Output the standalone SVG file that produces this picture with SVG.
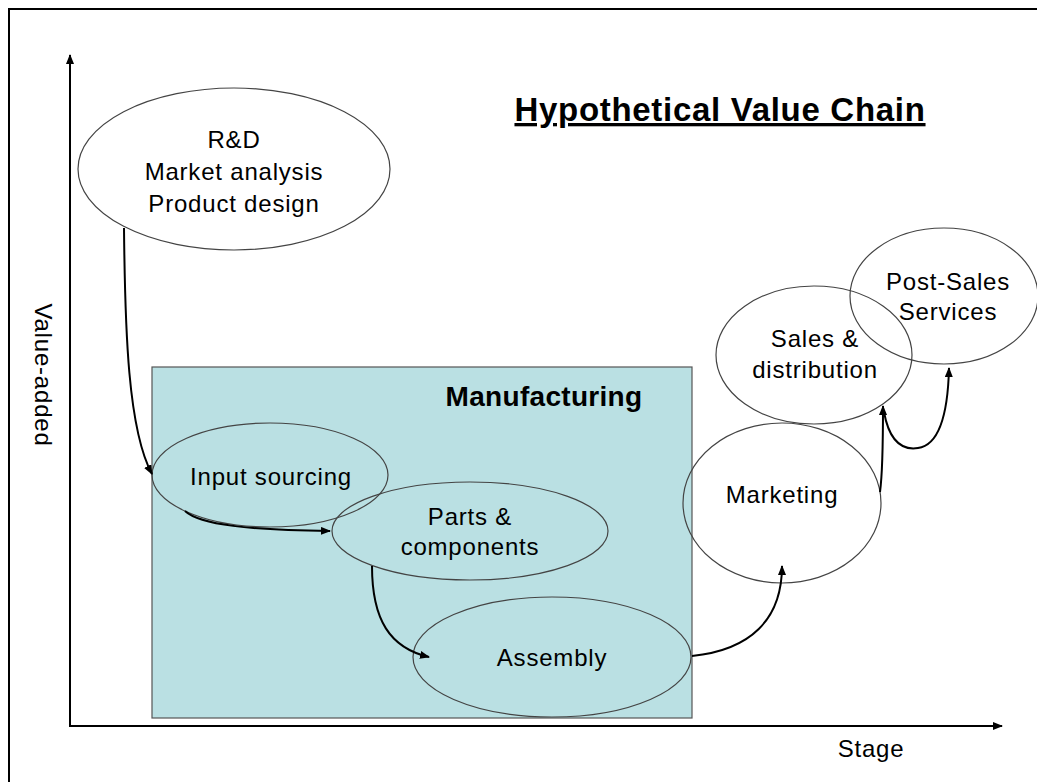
<svg xmlns="http://www.w3.org/2000/svg" width="1037" height="782" viewBox="0 0 1037 782">
  <defs>
    <marker id="arrow" viewBox="0 0 10 8" refX="9" refY="4" markerWidth="10" markerHeight="8" markerUnits="userSpaceOnUse" orient="auto">
      <path d="M0 0 L10 4 L0 8 Z" fill="#000"/>
    </marker>
    <style>
      .node { fill: none; stroke: #444; stroke-width: 1.2; }
      .lbl { font-family: "Liberation Sans", Arial, sans-serif; font-size: 24px; letter-spacing: 0.8px; fill: #000; text-anchor: middle; }
      .conn { fill: none; stroke: #000; stroke-width: 2; marker-end: url(#arrow); }
      .axis { fill: none; stroke: #000; stroke-width: 2; marker-end: url(#arrow); }
    </style>
  </defs>

  <rect width="1037" height="782" fill="#fff"/>
  <!-- outer frame -->
  <rect x="9" y="9" width="1040" height="790" fill="none" stroke="#000" stroke-width="2"/>

  <!-- axes -->
  <g id="axes">
    <path class="axis" d="M70 727 L70 55"/>
    <path class="axis" d="M69 726 L1002 726"/>
    <text class="lbl" transform="translate(35 375) rotate(90)" letter-spacing="1.6">Value-added</text>
    <text class="lbl" x="871" y="757">Stage</text>
  </g>

  <!-- title -->
  <text x="720" y="121" font-family="Liberation Sans, Arial, sans-serif" font-size="33" font-weight="bold" letter-spacing="0.7" text-anchor="middle" text-decoration="underline">Hypothetical Value Chain</text>

  <!-- manufacturing block -->
  <g id="manufacturing">
    <rect x="152" y="367" width="540" height="351" fill="#bae0e3" stroke="#555" stroke-width="1.2"/>
    <text x="544" y="406" font-family="Liberation Sans, Arial, sans-serif" font-size="28" font-weight="bold" letter-spacing="0.3" text-anchor="middle">Manufacturing</text>
  </g>

  <g id="rnd">
    <ellipse class="node" cx="234" cy="169" rx="156" ry="81"/>
    <text class="lbl" x="234" y="148">R&amp;D</text>
    <text class="lbl" x="234" y="180">Market analysis</text>
    <text class="lbl" x="234" y="212">Product design</text>
  </g>

  <g id="input-sourcing">
    <ellipse class="node" cx="270" cy="475" rx="118" ry="52"/>
    <text class="lbl" x="271" y="485">Input sourcing</text>
  </g>

  <g id="parts">
    <ellipse class="node" cx="470" cy="531" rx="138" ry="49"/>
    <text class="lbl" x="470" y="525">Parts &amp;</text>
    <text class="lbl" x="470" y="555">components</text>
  </g>

  <g id="assembly">
    <ellipse class="node" cx="552" cy="657" rx="139" ry="60"/>
    <text class="lbl" x="552" y="666">Assembly</text>
  </g>

  <g id="marketing">
    <ellipse class="node" cx="782" cy="503" rx="99" ry="80"/>
    <text class="lbl" x="782" y="503">Marketing</text>
  </g>

  <g id="sales">
    <ellipse class="node" cx="814" cy="355" rx="98" ry="69"/>
    <text class="lbl" x="815" y="347">Sales &amp;</text>
    <text class="lbl" x="815" y="378">distribution</text>
  </g>

  <g id="post-sales">
    <ellipse class="node" cx="944" cy="296" rx="94" ry="68"/>
    <text class="lbl" x="948" y="290">Post-Sales</text>
    <text class="lbl" x="948" y="320">Services</text>
  </g>

  <!-- connectors between stages -->
  <g id="connectors">
    <path class="conn" d="M124 228 C 125 330, 128 430, 152 474"/>
    <path class="conn" d="M185 511 C 200 525, 250 530, 330 531"/>
    <path class="conn" d="M372 566 C 372 620, 390 648, 429 657"/>
    <path class="conn" d="M692 656 C 750 650, 782 620, 782 566"/>
    <path class="conn" d="M880 492 C 883 470, 883 440, 883 406"/>
    <path class="conn" d="M884 412 C 890 445, 905 450, 918 448 C 940 445, 948 410, 949 368"/>
  </g>
</svg>
